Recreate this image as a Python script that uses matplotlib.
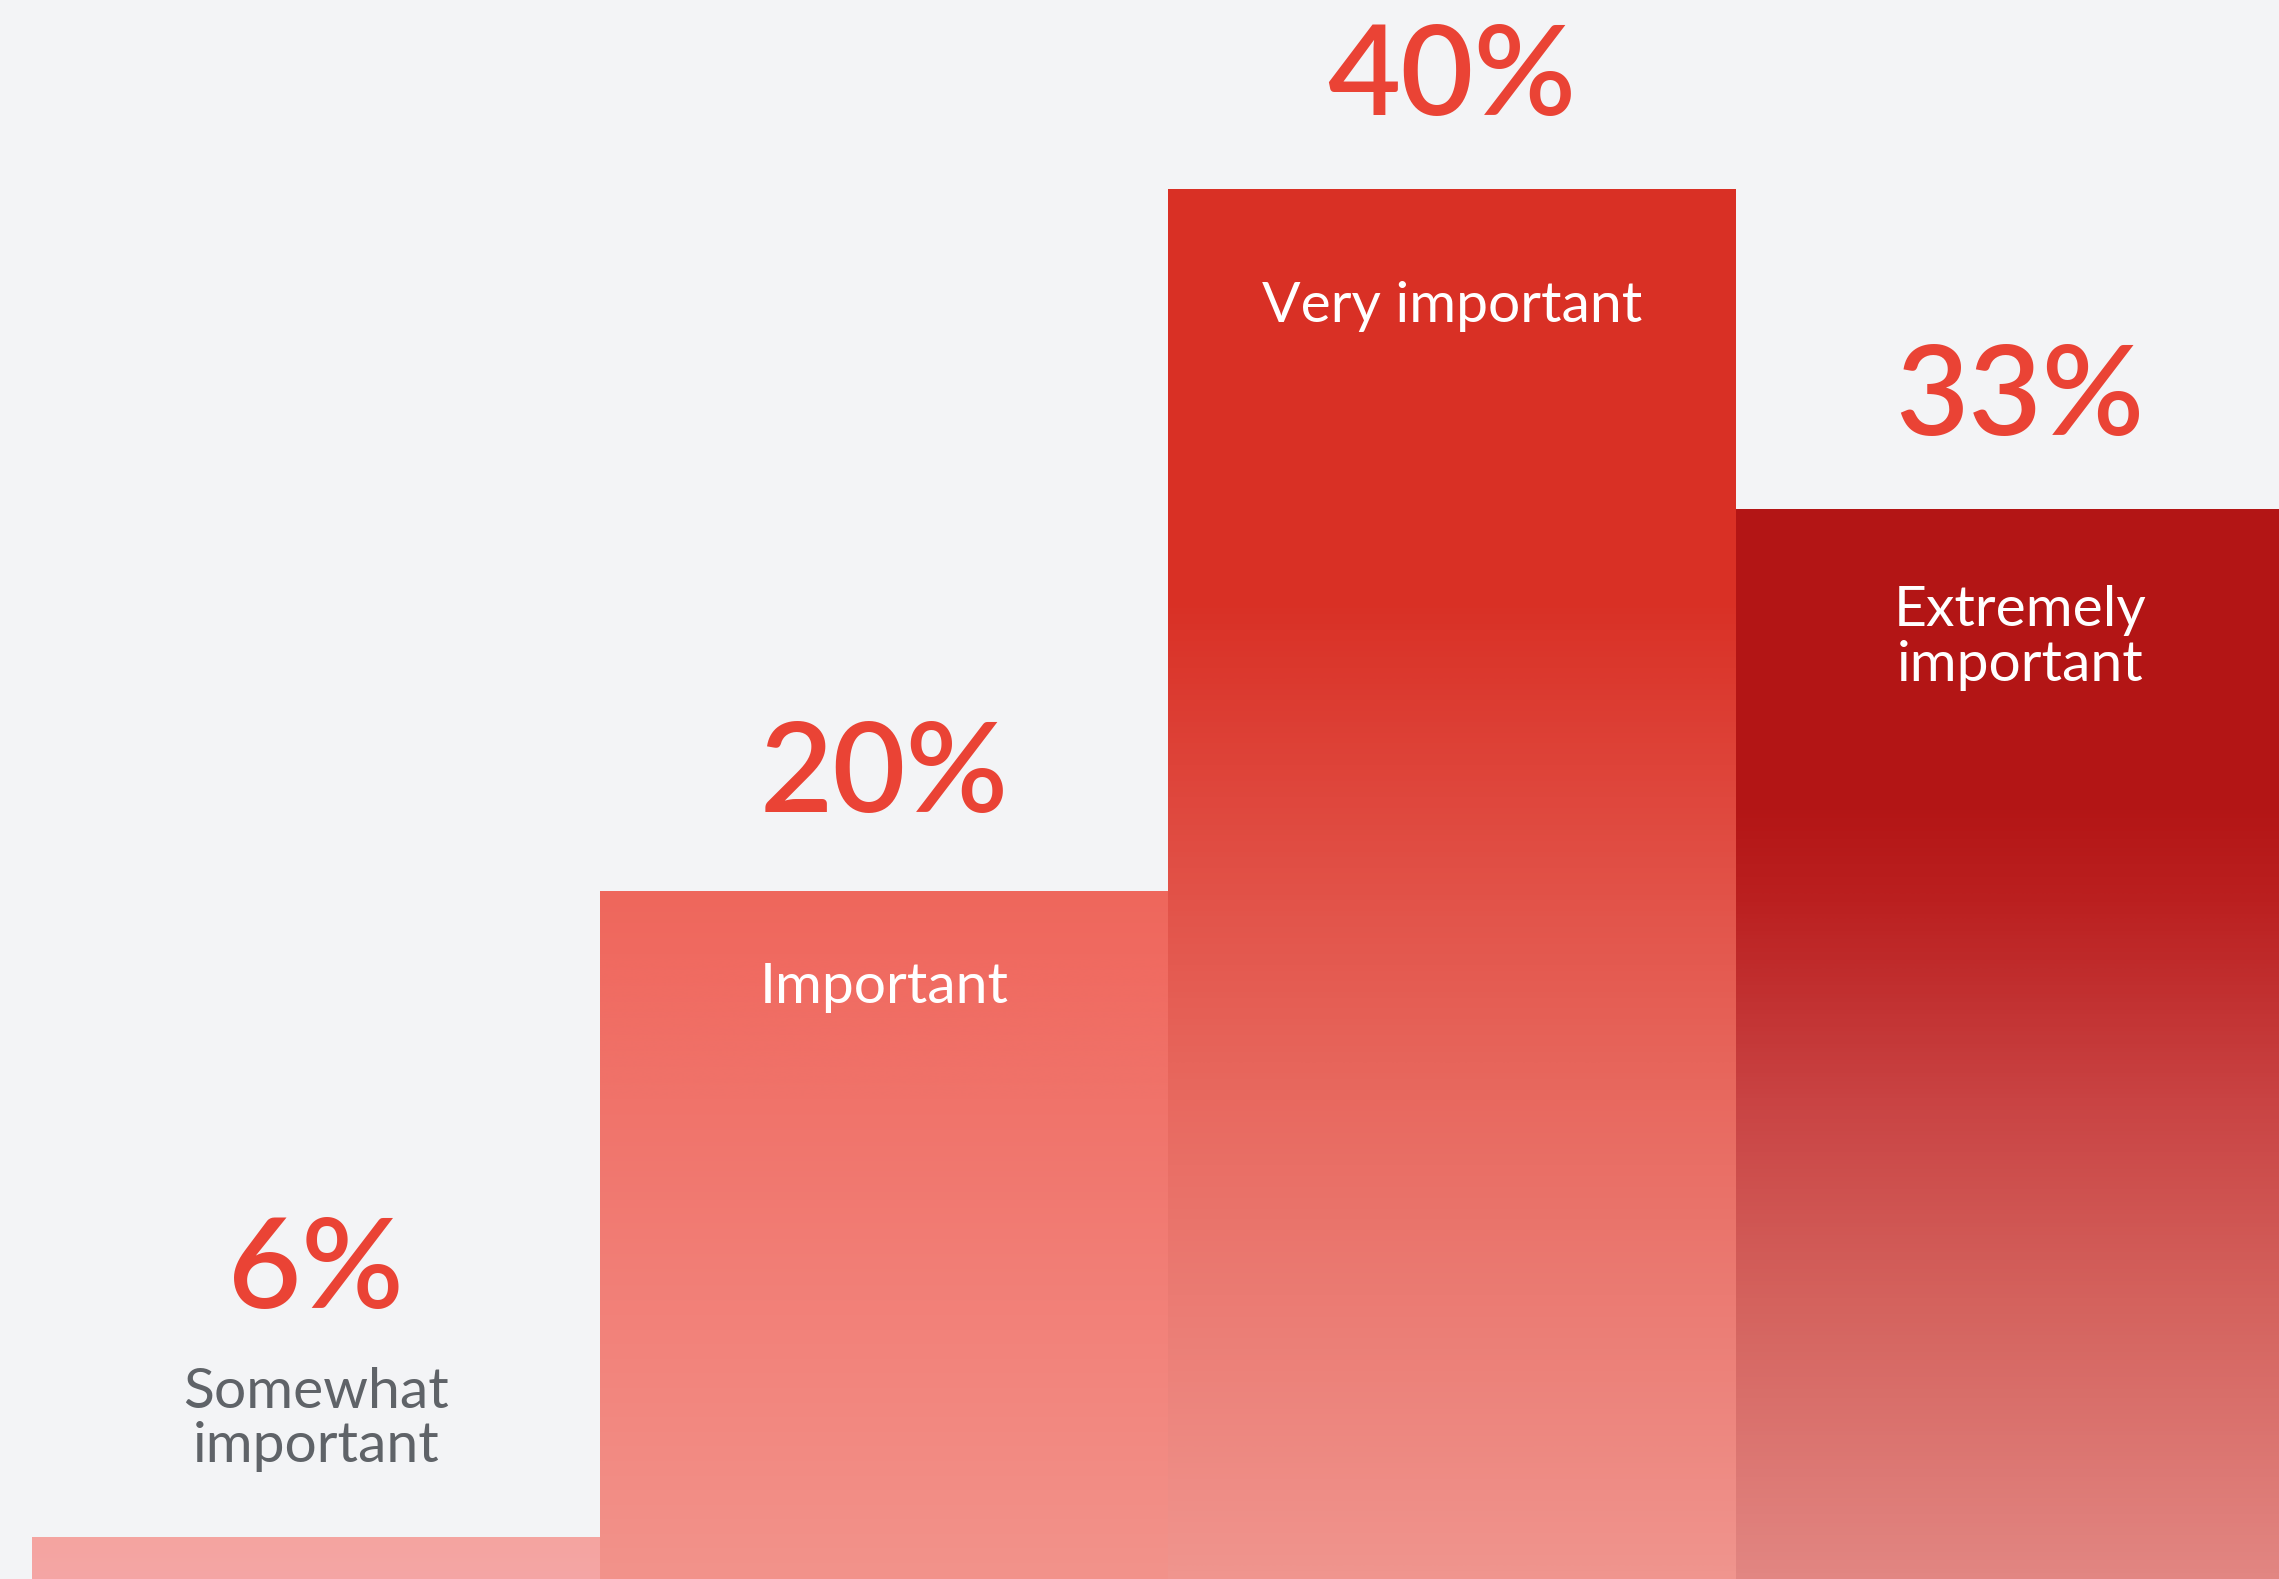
import matplotlib
matplotlib.use("Agg")

import matplotlib.pyplot as plt
import numpy as np
from matplotlib.colors import LinearSegmentedColormap

# survey answers, left to right
categories = ["Somewhat\nimportant", "Important", "Very important", "Extremely\nimportant"]
shares = [6, 20, 40, 33]
# heights as drawn in the infographic (it is not to scale)
bar_heights = [1.2, 19.8, 40.0, 30.8]

# vertical colour stops per bar: (data y, colour)
bar_gradients = [
    [(0.0, "#f5a6a5"), (1.2, "#f4a4a0")],
    [(0.0, "#f3938b"), (8.0, "#f28078"), (13.8, "#f0736a"), (18.0, "#f06a60"), (19.8, "#ee675c")],
    [(0.0, "#f0958e"), (8.0, "#eb7b73"), (13.8, "#e8695f"), (19.5, "#e25349"), (28.3, "#d93025"), (40.0, "#d93025")],
    [(0.0, "#e28682"), (8.0, "#d4625d"), (13.8, "#c94343"), (19.5, "#bb2020"), (22.4, "#b31515"), (30.8, "#b31515")],
]

FIG_BG = "#f3f4f6"
CARD_BG = "#f0f1f3"
PCT_COLOR = "#ea4335"
GREY_TEXT = "#5f6368"
FONT = ["Lato", "DejaVu Sans"]

W_PX, H_PX = 2279, 1579
DPI = 100
CARD_LEFT_PX = 22
CARD_TOP_PX = 189

# layout offsets in points
PCT_RAISE = [165, 57, 53, 53]
INSIDE_DROP = [None, 51, 66, 55]


def gradient_cmap(stops, top):
    pos = [y / top for y, _c in stops]
    cols = [c for _y, c in stops]
    pos[0], pos[-1] = 0.0, 1.0
    return LinearSegmentedColormap.from_list("g", list(zip(pos, cols)))


def main():
    fig = plt.figure(figsize=(W_PX / DPI, H_PX / DPI), dpi=DPI, facecolor=FIG_BG)
    ax = fig.add_axes([CARD_LEFT_PX / W_PX, 0, 1 - CARD_LEFT_PX / W_PX, (H_PX - CARD_TOP_PX) / H_PX])
    ax.set_facecolor(CARD_BG)

    x = np.arange(len(categories))
    bars = ax.bar(x, bar_heights, width=1.0, color="none", edgecolor="none", zorder=2)

    for i, patch in enumerate(bars):
        h = bar_heights[i]
        cmap = gradient_cmap(bar_gradients[i], h)
        grad = np.linspace(0, 1, 256).reshape(-1, 1)
        im = ax.imshow(
            grad,
            cmap=cmap,
            origin="lower",
            aspect="auto",
            extent=[x[i] - 0.5, x[i] + 0.5, 0, h],
            zorder=1,
            interpolation="bicubic",
        )
        im.set_clip_path(patch)

    ax.set_xlim(-0.518, 3.456)
    ax.set_ylim(0, 40)
    ax.set_axis_off()

    for i, (label, share) in enumerate(zip(categories, shares)):
        h = bar_heights[i]
        ax.annotate(
            f"{share}%",
            xy=(x[i], h),
            xytext=(0, PCT_RAISE[i]),
            textcoords="offset points",
            ha="center",
            va="baseline",
            fontsize=91,
            fontweight="semibold",
            color=PCT_COLOR,
            family=FONT,
            annotation_clip=False,
        )
        if INSIDE_DROP[i] is None:
            ax.annotate(
                label,
                xy=(x[i], h),
                xytext=(0, 47),
                textcoords="offset points",
                ha="center",
                va="bottom",
                multialignment="center",
                fontsize=41,
                linespacing=1.08,
                color=GREY_TEXT,
                family=FONT,
                annotation_clip=False,
            )
        else:
            ax.annotate(
                label,
                xy=(x[i], h),
                xytext=(0, -INSIDE_DROP[i]),
                textcoords="offset points",
                ha="center",
                va="top",
                multialignment="center",
                fontsize=41,
                linespacing=1.1,
                color="white",
                family=FONT,
                zorder=5,
            )

    fig.savefig("out.png", dpi=DPI, facecolor=FIG_BG)
    plt.close(fig)


if __name__ == "__main__":
    main()
